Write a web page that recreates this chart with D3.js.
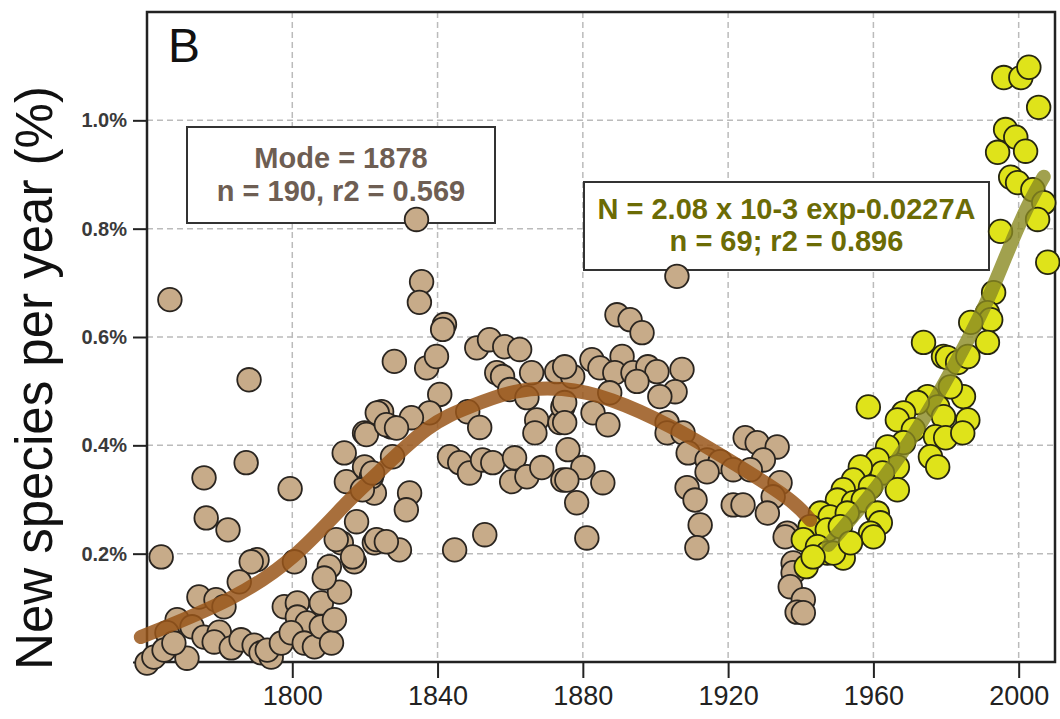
<!DOCTYPE html>
<html>
<head>
<meta charset="utf-8">
<script src="https://cdn.jsdelivr.net/npm/d3@7"></script>
<style>
  body { margin: 0; background: #fff; }
  svg { display: block; font-family: "Liberation Sans", Arial, sans-serif; }
</style>
</head>
<body>
<svg id="chart" width="1060" height="719"></svg>
<script>
// values: [year, % new species per year]
const earlyPoints = [
  [1788.1,0.521],[1775.7,0.340],[1787.3,0.368],[1799.4,0.320],[1776.3,0.266],[1782.3,0.244],
  [1763.9,0.194],[1790.3,0.189],[1788.7,0.185],[1800.6,0.185],[1785.4,0.148],[1774.3,0.120],
  [1779.0,0.115],[1781.2,0.102],[1768.3,0.078],[1772.4,0.065],[1765.5,0.054],[1760.0,-0.002],
  [1761.9,0.009],[1764.7,0.022],[1771.0,0.007],[1767.4,0.035],[1775.7,0.046],[1779.9,0.055],
  [1778.5,0.037],[1783.2,0.026],[1785.9,0.041],[1789.5,0.031],[1791.4,0.017],[1794.2,0.009],
  [1793.1,0.022],[1797.0,0.035],[1797.8,0.102],[1801.4,0.109],[1801.4,0.083],[1804.1,0.072],
  [1799.7,0.054],[1803.3,0.035],[1806.1,0.028],[1808.0,0.065],[1810.8,0.035],[1808.0,0.109],
  [1811.6,0.078],[1813.0,0.129],[1810.2,0.176],[1808.8,0.155],[1813.5,0.220],[1817.1,0.185],
  [1817.7,0.259],[1814.9,0.333],[1814.3,0.386],[1819.9,0.423],[1819.9,0.360],[1822.6,0.312],
  [1822.6,0.220],[1766.3,0.669]
];
const midPoints = [
  [1834.2,0.817],[1835.6,0.702],[1835.0,0.664],[1841.9,0.623],[1828.1,0.555],[1837.0,0.543],
  [1839.7,0.564],[1850.8,0.580],[1854.3,0.595],[1858.5,0.582],[1862.6,0.577],[1856.3,0.534],
  [1857.9,0.527],[1865.9,0.534],[1872.8,0.536],[1840.6,0.494],[1837.8,0.460],[1832.8,0.451],
  [1824.6,0.462],[1827.3,0.434],[1820.4,0.420],[1848.3,0.462],[1851.6,0.433],[1859.9,0.503],
  [1864.6,0.488],[1867.3,0.447],[1866.8,0.423],[1873.7,0.442],[1874.5,0.471],[1827.6,0.379],
  [1821.8,0.342],[1819.3,0.318],[1832.3,0.312],[1831.4,0.281],[1812.1,0.226],[1823.2,0.226],
  [1829.5,0.207],[1816.6,0.194],[1843.3,0.379],[1846.1,0.368],[1848.8,0.349],[1852.4,0.373],
  [1855.2,0.368],[1861.2,0.377],[1860.4,0.333],[1864.6,0.342],[1868.7,0.359],[1874.5,0.336],
  [1844.7,0.207],[1853.0,0.235],[1841.4,0.614],[1823.4,0.460],[1825.9,0.438],[1828.7,0.432],
  [1822.1,0.349],[1825.9,0.222]
];
const latePoints = [
  [1905.9,0.712],[1889.4,0.641],[1893.0,0.632],[1896.3,0.608],[1882.5,0.558],[1884.7,0.543],
  [1890.8,0.564],[1888.8,0.534],[1893.8,0.534],[1897.9,0.545],[1900.4,0.536],[1907.3,0.540],
  [1905.4,0.499],[1901.2,0.490],[1894.9,0.518],[1877.2,0.527],[1875.0,0.545],[1887.4,0.497],
  [1882.8,0.460],[1886.9,0.438],[1875.0,0.479],[1875.0,0.442],[1875.9,0.392],[1880.0,0.359],
  [1885.5,0.331],[1875.6,0.336],[1878.3,0.294],[1881.1,0.229],[1903.2,0.442],[1903.2,0.423],
  [1907.6,0.423],[1909.0,0.386],[1914.2,0.373],[1917.8,0.370],[1921.4,0.355],[1914.2,0.351],
  [1908.7,0.322],[1910.9,0.299],[1912.3,0.253],[1911.4,0.211],[1921.4,0.290],[1924.1,0.290],
  [1924.7,0.414],[1928.0,0.405],[1933.5,0.397],[1929.7,0.373],[1926.1,0.355],[1934.3,0.331],
  [1932.4,0.305],[1930.8,0.275],[1936.3,0.238],[1937.9,0.183],[1935.7,0.231],[1937.9,0.165],
  [1937.1,0.139],[1940.7,0.115],[1939.0,0.092],[1940.7,0.091]
];
const modernPoints = [
  [1973.8,0.590],[1979.3,0.564],[1958.6,0.471],[1974.9,0.490],[1977.7,0.471],[1972.1,0.479],
  [1968.3,0.460],[1966.6,0.447],[1979.3,0.453],[1971.0,0.429],[1968.3,0.405],[1963.9,0.397],
  [1977.1,0.416],[1979.9,0.414],[1975.7,0.379],[1977.7,0.360],[1966.6,0.360],[1961.1,0.373],
  [1962.5,0.349],[1956.4,0.360],[1954.5,0.336],[1966.6,0.318],[1959.2,0.323],[1951.7,0.318],
  [1950.1,0.299],[1954.5,0.294],[1957.2,0.299],[1961.1,0.275],[1961.9,0.257],[1959.2,0.238],
  [1960.0,0.231],[1945.4,0.275],[1948.1,0.268],[1952.8,0.275],[1942.6,0.250],[1947.3,0.244],
  [1950.9,0.250],[1940.7,0.226],[1944.6,0.213],[1947.3,0.201],[1951.7,0.192],[1941.5,0.176],
  [1949.0,0.201],[1953.7,0.220],[1943.4,0.194],
  [1995.9,1.079],[2000.6,1.079],[2002.8,1.098],[2005.5,1.024],[1996.4,0.983],[1999.2,0.969],
  [1994.2,0.941],[2001.9,0.943],[1997.8,0.895],[1999.7,0.885],[2003.9,0.872],[2006.9,0.848],
  [2005.2,0.817],[1995.0,0.795],[2008.0,0.738],[1993.1,0.682],[1991.4,0.645],[1992.3,0.632],
  [1986.8,0.627],[1991.4,0.590],[1980.4,0.562],[1983.2,0.553],[1986.0,0.564],[1984.8,0.490],
  [1981.2,0.508],[1986.0,0.447],[1984.6,0.423]
];
// fitted curves
const modeFit = [
  [1758.3,0.046],[1784.0,0.115],[1800.6,0.189],[1816.3,0.305],[1822.6,0.342],[1837.8,0.442],
  [1848.8,0.471],[1860.7,0.503],[1874.5,0.508],[1887.4,0.488],[1904.0,0.438],[1921.4,0.368],
  [1937.9,0.299],[1942.6,0.262]
];
const expFit = [
  [1947.6,0.216],[1958.3,0.299],[1968.3,0.388],[1977.1,0.484],[1985.4,0.586],[1992.3,0.678],
  [1998.6,0.786],[2003.3,0.854],[2006.9,0.896]
];
const xTicks = [1800, 1840, 1880, 1920, 1960, 2000];
const yTicks = [0, 0.2, 0.4, 0.6, 0.8, 1.0];
const modeLabel = ["Mode = 1878", "n = 190, r2 = 0.569"];
const expLabel = ["N = 2.08 x 10-3 exp-0.0227A", "n = 69; r2 = 0.896"];

const svg = d3.select("#chart");
const plotLeft = 147, plotRight = 1055, plotTop = 12, plotBottom = 662;

const x = d3.scaleLinear().domain([1760, 2010]).range([plotLeft, plotRight]);
const y = d3.scaleLinear().domain([0, 1.2]).range([plotBottom, plotTop]);

// grid
const grid = svg.append("g").attr("stroke", "#bbbbbb").attr("stroke-width", 1.5).attr("stroke-dasharray", "6,4");
grid.selectAll("line.v").data(xTicks).join("line")
  .attr("x1", d => x(d)).attr("x2", d => x(d)).attr("y1", plotTop).attr("y2", plotBottom);
grid.selectAll("line.h").data(yTicks.filter(d => d > 0)).join("line")
  .attr("x1", plotLeft).attr("x2", plotRight).attr("y1", d => y(d)).attr("y2", d => y(d));

// axes
const xAxis = svg.append("g").attr("transform", `translate(0,${plotBottom})`)
  .call(d3.axisBottom(x).tickValues(xTicks).tickFormat(d3.format("d")).tickSize(16).tickSizeOuter(0));
xAxis.select(".domain").remove();
xAxis.selectAll("line").attr("stroke", "#222").attr("stroke-width", 2);
xAxis.selectAll("text").attr("font-size", 27).attr("fill", "#222").attr("y", 43).attr("dy", 0)
  .attr("font-family", "'Liberation Sans', Arial, sans-serif");

const yAxis = svg.append("g").attr("transform", `translate(${plotLeft},0)`)
  .call(d3.axisLeft(y).tickValues(yTicks).tickFormat(d => d === 0 ? "" : d.toFixed(1) + "%").tickSize(14).tickSizeOuter(0));
yAxis.select(".domain").remove();
yAxis.selectAll("line").attr("stroke", "#222").attr("stroke-width", 2);
yAxis.selectAll("text").attr("font-size", 20).attr("font-weight", "bold").attr("fill", "#3a3a3a")
  .attr("x", -20).attr("font-family", "'Liberation Sans', Arial, sans-serif");

svg.append("text")
  .attr("transform", `translate(52,${(plotTop + plotBottom) / 2 + 41}) rotate(-90)`)
  .attr("text-anchor", "middle").attr("font-size", 51).attr("fill", "#111")
  .text("New species per year (%)");

// frame
svg.append("rect").attr("x", plotLeft).attr("y", plotTop).attr("width", plotRight - plotLeft).attr("height", plotBottom - plotTop)
  .attr("fill", "none").attr("stroke", "#222").attr("stroke-width", 2.5);

svg.append("text").attr("x", 168).attr("y", 62).attr("font-size", 48).attr("fill", "#111").text("B");

// annotation boxes
function labelBox(x0, y0, w, h, lines, color, baselines) {
  const g = svg.append("g");
  g.append("rect").attr("x", x0).attr("y", y0).attr("width", w).attr("height", h)
    .attr("fill", "#fff").attr("stroke", "#333").attr("stroke-width", 2);
  g.selectAll("text").data(lines).join("text")
    .attr("x", x0 + w / 2).attr("y", (d, i) => baselines[i])
    .attr("text-anchor", "middle").attr("font-size", 29).attr("font-weight", "bold")
    .attr("fill", color).text(d => d);
}
labelBox(187, 127, 308, 96, modeLabel, "#6e5e53", [168, 201]);
labelBox(584, 182, 405, 88, expLabel, "#6b6b05", [219, 251]);

// points
const brown = earlyPoints.concat(midPoints, latePoints);
svg.append("g").selectAll("circle").data(brown).join("circle")
  .attr("cx", d => x(d[0])).attr("cy", d => y(d[1])).attr("r", 11.8)
  .attr("fill", "#c7ab89").attr("stroke", "#2a2520").attr("stroke-width", 1.8);
svg.append("g").selectAll("circle").data(modernPoints).join("circle")
  .attr("cx", d => x(d[0])).attr("cy", d => y(d[1])).attr("r", 11.8)
  .attr("fill", "#dfe31a").attr("stroke", "#262610").attr("stroke-width", 1.8);

// fit lines
const line = d3.line().x(d => x(d[0])).y(d => y(d[1])).curve(d3.curveBasis);
svg.append("path").datum(modeFit).attr("d", line)
  .attr("fill", "none").attr("stroke", "#99561a").attr("stroke-opacity", 0.85)
  .attr("stroke-width", 14).attr("stroke-linecap", "round");
svg.append("path").datum(expFit).attr("d", line)
  .attr("fill", "none").attr("stroke", "#8a8a22").attr("stroke-opacity", 0.8)
  .attr("stroke-width", 14).attr("stroke-linecap", "round");
</script>
</body>
</html>
